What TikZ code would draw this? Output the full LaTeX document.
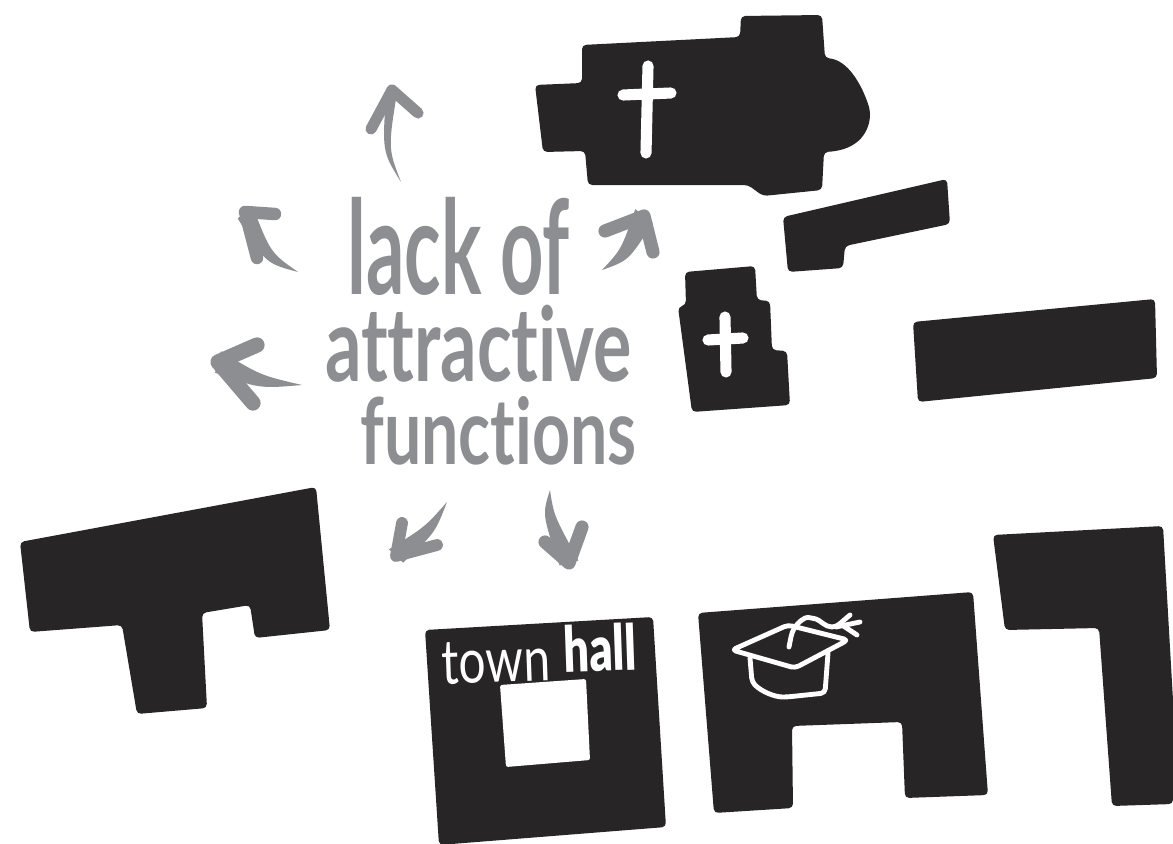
\documentclass[tikz,border=0pt]{standalone}
\usepackage{fontspec}
\setmainfont{Lato}
\newfontfamily\handfont[Ligatures=NoCommon]{Lato Bold}
\newfontfamily\townfont{Lato}
\newfontfamily\hallfont{Lato Black}
\usetikzlibrary{calc}
\definecolor{blockink}{RGB}{39,37,38}
\definecolor{arrowgray}{RGB}{140,142,145}
\newcommand{\handline}[3]{\resizebox{#1}{#2}{\handfont #3}}

\begin{document}
\begin{tikzpicture}[
    x=0.72pt, y=-0.72pt,
    block/.style={fill=blockink, rounded corners=3pt},
    hole/.style={fill=white, rounded corners=1.5pt},
    crossbar/.style={draw=white, line width=8pt, line cap=round},
    capline/.style={draw=white, line width=3.5pt, line cap=round, line join=round, rounded corners=3pt},
    barb/.style={draw=arrowgray, line cap=round, line join=round},
    lbl/.style={inner sep=0pt, text=arrowgray},
    lblwhite/.style={inner sep=0pt, text=white},
  ]
    \useasboundingbox (0,0) rectangle (1173,844);

    % big church
    \fill[block] (582,45) -- (740,37) -- (741,16) -- (822,15) -- (825,58)
      .. controls (848,60) and (862,85) .. (870,110)
      .. controls (870,130) and (860,150) .. (824,152)
      -- (822,190) -- (763,196) -- (748,185) -- (588,185) -- (585,151) -- (543,152)
      -- (535,85) -- (582,83) -- cycle;
    \draw[crossbar] (648,66) -- (646,153);
    \draw[crossbar] (623,95) -- (671,93);

    % small blocks
    \fill[block] (783,217) -- (947,179) -- (950,224) -- (845,246) -- (843,268) -- (788,272) -- cycle;
    \fill[block] (913,322) -- (1155,299) -- (1157,378) -- (918,402) -- cycle;

    % small church
    \fill[block] (685,272) -- (755,266) -- (757,300) -- (770,301) -- (772,350) -- (787,351)
      -- (790,405) -- (692,412) -- (678,307) -- (686,305) -- cycle;
    \draw[crossbar] (725,317) -- (726,372);
    \draw[crossbar] (708,340) -- (743,338);

    % left building
    \fill[block] (20,542) -- (316,487) -- (330,630) -- (255,638) -- (250,605) -- (202,613)
      -- (207,708) -- (137,714) -- (122,625) -- (30,632) -- cycle;

    % town hall
    \fill[block] (425,630) -- (653,617) -- (666,827) -- (439,845) -- cycle;
    \fill[hole] (500,685) -- (586,679) -- (590,760) -- (506,767) -- cycle;
    \node[lblwhite, rotate=2] (town) at (496,662) {\resizebox{78pt}{30pt}{\townfont town}};
    \node[lblwhite, rotate=2] (hall) at (600,648) {\resizebox{52pt}{34pt}{\hallfont hall}};

    % university
    \fill[block] (698,613) -- (973,592) -- (988,795) -- (905,798) -- (902,722) -- (792,726)
      -- (793,808) -- (714,813) -- cycle;
    \draw[capline] (732,650) -- (788,625) -- (848,640) -- (795,668) -- cycle;
    \draw[capline] (750,658) -- (752,682) .. controls (762,692) and (775,697) .. (787,697)
      -- (825,693) -- (828,653);
    \draw[capline] (789,647) -- (792,632) .. controls (798,622) and (805,617) .. (812,618)
      .. controls (820,620) and (825,627) .. (836,627) -- (850,615);
    \draw[capline] (836,627) -- (860,622);
    \draw[capline] (842,625) -- (857,635);

    % right building
    \fill[block] (993,535) -- (1163,526) -- (1173,700) -- (1173,804) -- (1112,806)
      -- (1099,628) -- (1005,630) -- cycle;

    % text
    \node[lbl] (lack) at (458.5,246) {\handline{160pt}{70pt}{lack of}};
    \node[lbl] (attractive) at (478.5,343.5) {\handline{221pt}{55pt}{attractive}};
    \node[lbl] (functions) at (498.5,431) {\handline{199pt}{49pt}{functions}};

    % arrows: tail / bend / tip / barb / barb / half width / barb width
    \foreach \tl/\ct/\tp/\ba/\bb/\hw/\bw in {
        {401,182}/{385,150}/{392,90}/{371,129}/{418,113}/4pt/8pt,
        {298,272}/{268,258}/{245,212}/{257,258}/{275,214}/7pt/9pt,
        {302,385}/{260,382}/{218,362}/{253,403}/{257,345}/8pt/11pt,
        {602,270}/{625,255}/{644,216}/{605,231}/{653,252}/8pt/9.5pt,
        {447,502}/{430,530}/{396,556}/{402,523}/{437,545}/7pt/8.5pt,
        {550,490}/{548,515}/{569,563}/{545,542}/{582,527}/7pt/9.5pt} {
      \fill[arrowgray] (\tl) .. controls ($(\ct)!0.6*\hw!90:(\tl)$) .. ($(\tp)!\hw!90:(\tl)$)
        -- ($(\tp)!\hw!-90:(\tl)$) .. controls ($(\ct)!0.6*\hw!-90:(\tl)$) .. (\tl);
      \fill[arrowgray] (\tp) -- ($(\tp)!0.35!(\ba)$) -- ($(\tp)!0.35!(\bb)$) -- cycle;
      \draw[barb, line width=\bw] (\ba) -- (\tp) -- (\bb);
    }
  \end{tikzpicture}
\end{document}
